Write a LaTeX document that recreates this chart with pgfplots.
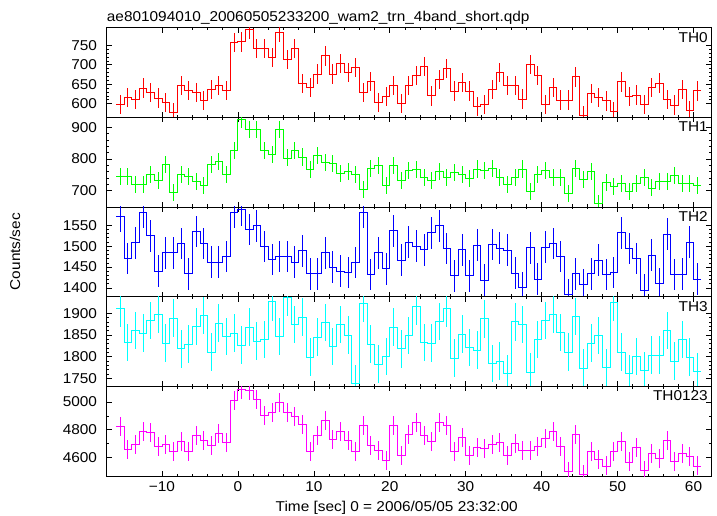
\documentclass[border=0pt]{standalone}
\usepackage{fontspec}
\setmainfont[FakeStretch=1.08]{Liberation Sans}
\usepackage{pgfplots}
\usepackage{pgfplotstable}
\pgfplotsset{compat=1.18}

\definecolor{qred}{RGB}{255,0,0}
\definecolor{qgreen}{RGB}{0,255,0}
\definecolor{qblue}{RGB}{0,0,255}
\definecolor{qcyan}{RGB}{0,255,255}
\definecolor{qmagenta}{RGB}{255,0,255}

% 1 s bins, t = bin centre; last row repeats the last bin to close the step line
\pgfplotstableread{
t     th0  th1  th2   th3   th0123
-15.5 598  744  1571  1911  4825
-14.5 616  743  1470  1833  4656
-13.5 610  719  1508  1860  4694
-12.5 640  718  1581  1854  4784
-11.5 628  752  1525  1883  4779
-10.5 614  731  1440  1897  4675
-9.5  603  782  1484  1831  4694
-8.5  577  693  1484  1889  4644
-7.5  646  750  1506  1818  4716
-6.5  634  745  1434  1829  4639
-5.5  628  729  1535  1869  4760
-4.5  608  716  1506  1895  4723
-3.5  637  782  1462  1811  4687
-2.5  647  792  1462  1877  4772
-1.5  634  752  1475  1847  4709
-0.5  757  826  1581  1854  5009
0.5   759  926  1587  1827  5094
1.5   791  892  1540  1868  5086
2.5   742  892  1549  1836  5016
3.5   742  826  1499  1840  4900
4.5   719  813  1468  1926  4924
5.5   784  893  1475  1847  4997
6.5   714  803  1475  1936  4924
7.5   742  826  1462  1874  4893
8.5   652  806  1489  1891  4837
9.5   641  766  1434  1799  4639
10.5  676  810  1434  1845  4760
11.5  723  789  1484  1878  4869
12.5  676  785  1450  1823  4731
13.5  703  753  1440  1874  4789
14.5  680  759  1437  1850  4719
15.5  693  750  1461  1738  4639
16.5  628  703  1581  1922  4832
17.5  657  769  1432  1829  4687
18.5  603  780  1484  1783  4651
19.5  618  716  1446  1801  4578
20.5  647  780  1537  1868  4832
21.5  600  732  1466  1818  4615
22.5  646  763  1510  1849  4765
23.5  672  766  1500  1915  4849
24.5  695  740  1491  1832  4760
25.5  620  732  1532  1831  4716
26.5  662  759  1549  1881  4849
27.5  690  742  1494  1912  4832
28.5  632  758  1429  1797  4639
29.5  655  750  1491  1852  4743
30.5  632  737  1429  1821  4615
31.5  593  768  1502  1815  4673
32.5  597  763  1419  1887  4663
33.5  637  769  1504  1784  4692
34.5  680  742  1495  1790  4706
35.5  647  719  1490  1761  4615
36.5  647  740  1435  1880  4697
37.5  612  768  1401  1874  4651
38.5  701  698  1496  1765  4651
39.5  673  750  1421  1839  4675
40.5  597  763  1498  1883  4736
41.5  641  742  1506  1898  4784
42.5  609  742  1475  1856  4675
43.5  609  690  1384  1811  4494
44.5  669  769  1434  1892  4767
45.5  570  735  1408  1774  4474
46.5  626  761  1434  1831  4644
47.5  616  658  1466  1849  4585
48.5  607  724  1432  1775  4537
49.5  580  712  1437  1924  4644
50.5  656  721  1532  1811  4716
51.5  619  698  1494  1761  4566
52.5  622  721  1470  1800  4670
53.5  597  740  1394  1768  4506
54.5  641  708  1478  1804  4627
55.5  653  729  1410  1804  4590
56.5  610  729  1529  1860  4723
57.5  596  747  1432  1790  4571
58.5  636  721  1433  1840  4627
59.5  583  722  1510  1799  4607
60.5  633  716  1421  1766  4537
61.5  633  716  1421  1766  4537
}\wamdata

\newcommand{\lblfont}{\fontsize{14.3}{17}\selectfont}

\pgfplotsset{
  wampanel/.style={
    scale only axis, width=604.5bp, height=89.7bp,
    anchor=north west,
    xmin=-17.3, xmax=62.3,
    xtick={-10,0,...,60}, minor x tick num=4,
    xticklabels={},
    minor y tick num=4,
    tick align=inside, tick pos=both,
    major tick length=5bp, minor tick length=2.5bp,
    every tick/.style={black, line width=0.6bp},
    axis line style={line width=0.8bp},
    ticklabel style={font=\lblfont},
    yticklabel style={xshift=-6bp},
    /pgf/number format/assume math mode=true,
    /pgf/number format/1000 sep={},
  },
  stepline/.style={const plot mark left, mark=none, draw=#1, line width=0.8bp},
  errbar/.style={draw=none, mark=none, restrict x to domain=-16:61,
    error bars/y dir=both, error bars/error mark=none,
    error bars/error bar style={draw=#1, line width=0.8bp}},
}
\tikzset{panellabel/.style={anchor=north east, inner sep=0pt, xshift=-3bp, yshift=-4.5bp, font=\lblfont}}

\begin{document}
\begin{tikzpicture}
\path[use as bounding box] (-106.5bp,27.5bp) rectangle (610.5bp,-488.5bp);

\begin{axis}[wampanel, at={(0bp,0bp)}, ymin=565, ymax=796, ytick={600,650,700,750}]
\addplot[stepline=qred] table[x expr=\thisrow{t}-0.5, y=th0]{\wamdata};
\addplot[errbar=qred, error bars/y fixed=25] table[x=t, y=th0]{\wamdata};
\node[panellabel] at (rel axis cs:1,1) {TH0};
\end{axis}

\begin{axis}[wampanel, at={(0bp,-89.7bp)}, ymin=648, ymax=932, ytick={700,800,900}]
\addplot[stepline=qgreen] table[x expr=\thisrow{t}-0.5, y=th1]{\wamdata};
\addplot[errbar=qgreen, error bars/y fixed=27] table[x=t, y=th1]{\wamdata};
\node[panellabel] at (rel axis cs:1,1) {TH1};
\end{axis}

\begin{axis}[wampanel, at={(0bp,-179.4bp)}, ymin=1379, ymax=1594, ytick={1400,1450,1500,1550}]
\addplot[stepline=qblue] table[x expr=\thisrow{t}-0.5, y=th2]{\wamdata};
\addplot[errbar=qblue, error bars/y fixed=38] table[x=t, y=th2]{\wamdata};
\node[panellabel] at (rel axis cs:1,1) {TH2};
\end{axis}

\begin{axis}[wampanel, at={(0bp,-269.1bp)}, ymin=1732, ymax=1938, ytick={1750,1800,1850,1900}]
\addplot[stepline=qcyan] table[x expr=\thisrow{t}-0.5, y=th3]{\wamdata};
\addplot[errbar=qcyan, error bars/y fixed=43] table[x=t, y=th3]{\wamdata};
\node[panellabel] at (rel axis cs:1,1) {TH3};
\end{axis}

\begin{axis}[wampanel, at={(0bp,-358.8bp)}, ymin=4464, ymax=5114, ytick={4600,4800,5000}, minor y tick num=1,
  xticklabels={−10,0,10,20,30,40,50,60}, xticklabel style={yshift=-2bp}]
\addplot[stepline=qmagenta] table[x expr=\thisrow{t}-0.5, y=th0123]{\wamdata};
\addplot[errbar=qmagenta, error bars/y fixed=69] table[x=t, y=th0123]{\wamdata};
\node[panellabel] at (rel axis cs:1,1) {TH0123};
\end{axis}

\node[anchor=base west, inner sep=0pt, font=\lblfont] at (0.2bp,6.5bp)
  {ae801094010\_20060505233200\_wam2\_trn\_4band\_short.qdp};
\node[anchor=base, inner sep=0pt, font=\lblfont] at (290.2bp,-483.5bp)
  {Time [sec] 0 = 2006/05/05 23:32:00};
\node[rotate=90, inner sep=0pt, font=\lblfont] at (-91.5bp,-224.2bp) {Counts/sec};
\end{tikzpicture}
\end{document}
